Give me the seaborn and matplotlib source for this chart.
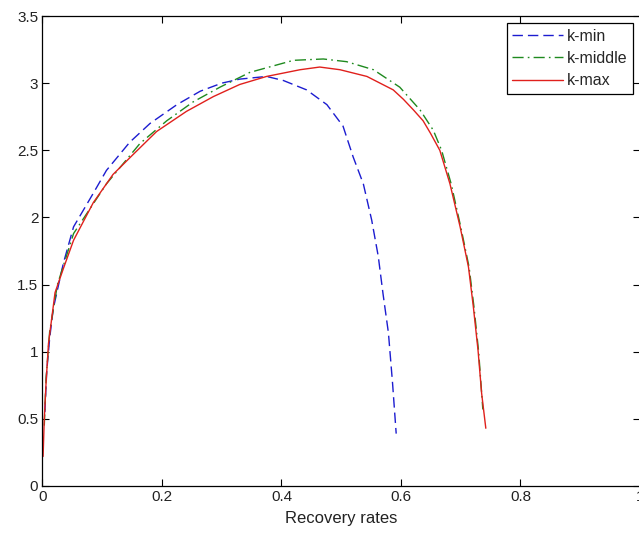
import matplotlib
matplotlib.use("Agg")
import matplotlib.pyplot as plt
import seaborn as sns
import pandas as pd

# ---- data ----
kmin_x = [0.004, 0.007, 0.012, 0.018, 0.035, 0.052, 0.085, 0.107, 0.146, 0.18, 0.225,
          0.264, 0.30, 0.33, 0.375, 0.403, 0.442, 0.476, 0.503, 0.52, 0.537, 0.551,
          0.562, 0.570, 0.579, 0.586, 0.592]
kmin_y = [0.55, 0.85, 1.1, 1.32, 1.66, 1.93, 2.18, 2.35, 2.56, 2.70, 2.84,
          2.94, 3.0, 3.03, 3.05, 3.02, 2.95, 2.84, 2.68, 2.45, 2.25, 1.98,
          1.71, 1.43, 1.14, 0.76, 0.39]

kmid_x = [0.003, 0.006, 0.012, 0.025, 0.052, 0.107, 0.163, 0.208, 0.252, 0.297, 0.347,
          0.42, 0.47, 0.509, 0.554, 0.598, 0.632, 0.654, 0.668, 0.684, 0.70, 0.714,
          0.722, 0.73, 0.737]
kmid_y = [0.45, 0.8, 1.15, 1.5, 1.88, 2.25, 2.55, 2.72, 2.86, 2.97, 3.08,
          3.17, 3.18, 3.16, 3.10, 2.97, 2.80, 2.65, 2.50, 2.25, 1.93, 1.63,
          1.34, 1.0, 0.57]

kmax_x = [0.001, 0.003, 0.006, 0.01, 0.021, 0.035, 0.052, 0.085, 0.118, 0.152, 0.191,
          0.241, 0.286, 0.33, 0.375, 0.431, 0.464, 0.498, 0.543, 0.587, 0.604, 0.621,
          0.637, 0.649, 0.665, 0.682, 0.699, 0.713, 0.721, 0.729, 0.735, 0.742]
kmax_y = [0.22, 0.5, 0.77, 1.06, 1.44, 1.62, 1.83, 2.11, 2.32, 2.47, 2.64,
          2.79, 2.90, 2.99, 3.05, 3.10, 3.12, 3.10, 3.05, 2.95, 2.88, 2.80,
          2.72, 2.63, 2.50, 2.25, 1.93, 1.63, 1.34, 1.01, 0.69, 0.43]

labels = ["k-min", "k-middle", "k-max"]
x_ticks = [0, 0.2, 0.4, 0.6, 0.8, 1]
x_ticklabels = ["0", "0.2", "0.4", "0.6", "0.8", "1"]
y_ticks = [0, 0.5, 1, 1.5, 2, 2.5, 3, 3.5]
y_ticklabels = ["0", "0.5", "1", "1.5", "2", "2.5", "3", "3.5"]
x_label = "Recovery rates"

# ---- style ----
sns.set_theme(style="white")
plt.rcParams["font.family"] = ["Liberation Sans", "DejaVu Sans"]
plt.rcParams["lines.scale_dashes"] = False

fig = plt.figure(figsize=(6.39, 5.43), dpi=100)
ax = fig.add_axes([0.0665, 0.105, 0.935, 0.8655])

colors = ["#1c1cd0", "#1f8a1f", "#e0201c"]
dash_patterns = [(7.5, 3.6), (8, 3, 1.2, 3), None]
series = [(kmin_x, kmin_y), (kmid_x, kmid_y), (kmax_x, kmax_y)]

for (xs, ys), lab, col, dp in zip(series, labels, colors, dash_patterns):
    df = pd.DataFrame({"x": xs, "y": ys})
    sns.lineplot(data=df, x="x", y="y", sort=False, color=col, linewidth=1.0,
                 label=lab, ax=ax, estimator=None)
    line = ax.lines[-1]
    if dp is not None:
        line.set_dashes(dp)

ax.set_xlim(0, 1)
ax.set_ylim(0, 3.5)
ax.set_xticks(x_ticks)
ax.set_xticklabels(x_ticklabels)
ax.set_yticks(y_ticks)
ax.set_yticklabels(y_ticklabels)
ax.set_xlabel(x_label, fontsize=12, color="#222222", labelpad=5)
ax.set_ylabel("")

ax.tick_params(direction="in", length=5, width=0.8, top=True, right=True,
               bottom=True, left=True, labelsize=11, labelcolor="#222222",
               color="black", pad=3)
for sp in ax.spines.values():
    sp.set_color("black")
    sp.set_linewidth(0.9)
    sp.set_visible(True)

leg = ax.legend(loc="upper right", fontsize=11.5, frameon=True, fancybox=False,
                edgecolor="black", framealpha=1, borderaxespad=0.45,
                handlelength=3.2, handletextpad=0.2, labelspacing=0.45,
                borderpad=0.35)
leg.get_frame().set_linewidth(0.9)

fig.savefig("out.png", dpi=100)
